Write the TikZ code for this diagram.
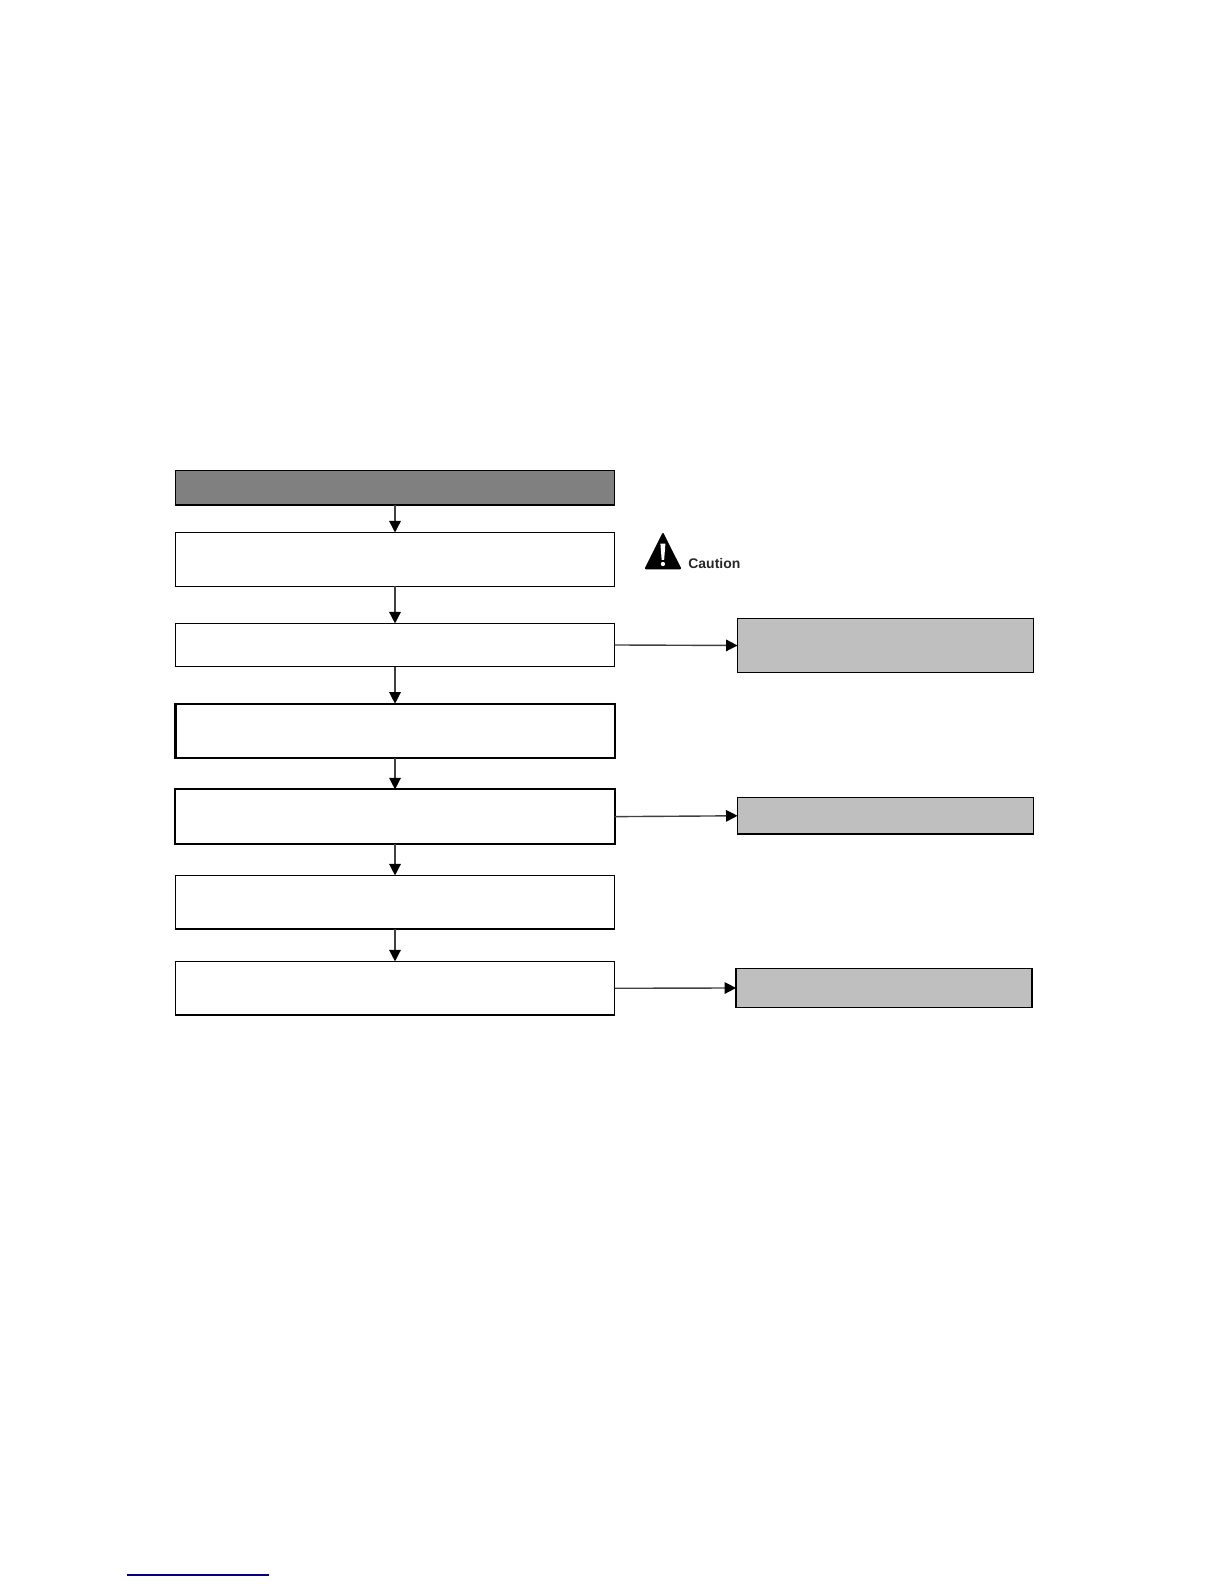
\documentclass[tikz,border=0pt]{standalone}
\usepackage{fontspec}
\setmainfont{Liberation Sans}
\usetikzlibrary{arrows.meta}
\tikzset{
  flowbox/.style={draw=black, line width=0.85pt, fill=white, rectangle, outer sep=0pt, inner sep=0pt, minimum width=3.0500in},
  sidebox/.style={draw=black, line width=0.8pt, fill=black!25, rectangle, outer sep=0pt, inner sep=0pt, minimum width=2.0560in},
  flowarrow/.style={line width=0.7pt, black!75, -{Triangle[length=5.8pt, width=5.8pt, black]}}
}

\begin{document}
\begin{tikzpicture}[x=1in,y=1in]
\useasboundingbox (0,0) rectangle (8.5,11);
\node[flowbox, fill=black!50, minimum height=0.2400in] (head) at (2.7431,7.6125) {};
\node[flowbox, minimum height=0.3750in] (boxa) at (2.7431,7.1146) {};
\node[flowbox, minimum height=0.2990in] (boxb) at (2.7431,6.5208) {};
\node[flowbox, line width=1.1pt, minimum height=0.3771in] (boxc) at (2.7431,5.9247) {};
\node[flowbox, line width=0.95pt, minimum height=0.3780in] (boxd) at (2.7431,5.3288) {};
\node[flowbox, minimum height=0.3730in] (boxe) at (2.7431,4.7340) {};
\node[flowbox, minimum height=0.3730in] (boxf) at (2.7431,4.1368) {};
\node[sidebox, minimum height=0.3750in] (sidea) at (6.1500,6.5174) {};
\node[sidebox, minimum height=0.2550in] (sideb) at (6.1500,5.3347) {};
\node[sidebox, minimum height=0.2720in] (sidec) at (6.1400,4.1389) {};
\draw[flowarrow] (head) -- (boxa);
\draw[flowarrow] (boxa) -- (boxb);
\draw[flowarrow] (boxb) -- (boxc);
\draw[flowarrow] (boxc) -- (boxd);
\draw[flowarrow] (boxd) -- (boxe);
\draw[flowarrow] (boxe) -- (boxf);
\draw[flowarrow] (boxb.east) -- (sidea.west);
\draw[flowarrow] (boxd.east) -- (sideb.west);
\draw[flowarrow] (boxf.east) -- (sidec.west);
% caution sign
\fill[black, rounded corners=1pt] (4.6035,7.3060) -- (4.7340,7.0460) -- (4.4740,7.0460) -- cycle;
\fill[white] (4.5860,7.2250) -- (4.6210,7.2250) -- (4.6120,7.1111) -- (4.5950,7.1111) -- cycle;
\fill[white] (4.6035,7.0833) circle (0.0150);
\node[anchor=base west, inner sep=0pt, font=\bfseries\fontsize{7}{8}\selectfont, black!85] (caution) at (4.7778,7.0507) {Caution};
\draw[line width=0.7pt, blue!50!black] (0.8819,0.0625) -- (1.8681,0.0625);
\end{tikzpicture}
\end{document}
